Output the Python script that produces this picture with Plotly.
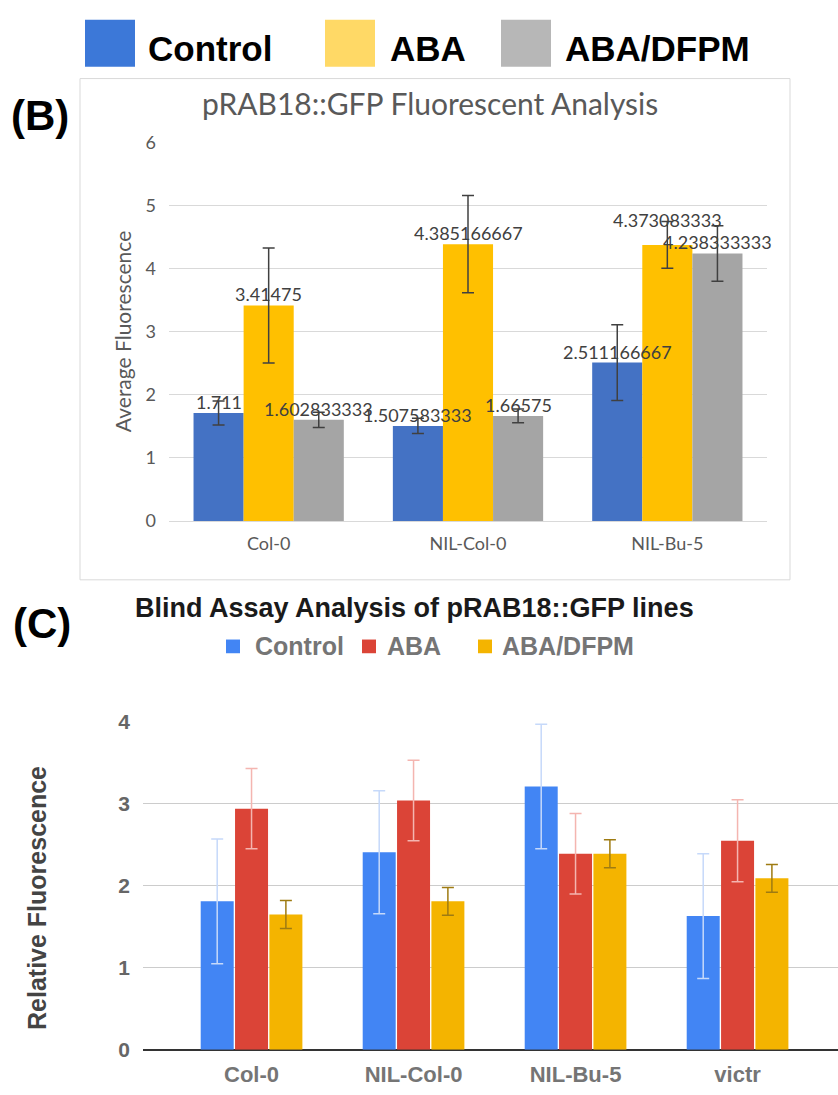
import plotly.graph_objects as go

# ---------------- data ----------------
series_names = ["Control", "ABA", "ABA/DFPM"]

# Panel B
b_categories = ["Col-0", "NIL-Col-0", "NIL-Bu-5"]
b_control = [1.711, 1.507583333, 2.511166667]
b_aba = [3.41475, 4.385166667, 4.373083333]
b_dfpm = [1.602833333, 1.66575, 4.238333333]
b_control_err = [0.19, 0.12, 0.60]
b_aba_err = [0.91, 0.77, 0.37]
b_dfpm_err = [0.12, 0.11, 0.44]
b_yticks = [0, 1, 2, 3, 4, 5, 6]

# Panel C
c_categories = ["Col-0", "NIL-Col-0", "NIL-Bu-5", "victr"]
c_control = [1.81, 2.41, 3.21, 1.63]
c_aba = [2.94, 3.04, 2.39, 2.55]
c_dfpm = [1.65, 1.81, 2.39, 2.09]
c_control_err = [0.76, 0.75, 0.76, 0.76]
c_aba_err = [0.49, 0.49, 0.49, 0.50]
c_dfpm_err = [0.17, 0.17, 0.17, 0.17]
c_yticks = [0, 1, 2, 3, 4]

# ---------------- styling ----------------
W, H = 838, 1095
def px(x):
    return x / W
def py(y):
    return 1 - y / H

top_legend_colors = ["#3c78d8", "#ffd966", "#b7b7b7"]
b_colors = ["#4472c4", "#ffc000", "#a5a5a5"]
c_colors = ["#4285f4", "#db4437", "#f4b400"]
c_err_colors = ["#c6d9fa", "#f4b5b0", "#9e7b12"]

b_font = "Lato, 'Noto Sans', sans-serif"
a_font = "'Liberation Sans', Arial, sans-serif"

fig = go.Figure()

# Panel B bars
wB = 0.2513
b_vals = [b_control, b_aba, b_dfpm]
b_errs = [b_control_err, b_aba_err, b_dfpm_err]
annotations = []
# extra vertical nudge (px) for labels that the original chart moved to avoid overlap
label_nudge = {(1, 2): 14}
for k in range(3):
    off = (k - 1.5) * wB
    fig.add_trace(go.Bar(
        x=b_categories, y=b_vals[k], name=series_names[k],
        xaxis="x", yaxis="y",
        width=wB, offset=off,
        marker=dict(color=b_colors[k], line=dict(width=0)),
        error_y=dict(type="data", array=b_errs[k], visible=True,
                     color="#404040", thickness=1.5, width=6),
        showlegend=False,
    ))
    # value labels drawn on top of all bars
    for i, (cat, v) in enumerate(zip(b_categories, b_vals[k])):
        annotations.append(dict(
            xref="x", yref="y", x=cat, y=v,
            xshift=(off + wB / 2) * (767 - 169) / 3,
            yshift=11 + label_nudge.get((k, i), 0),
            xanchor="center", yanchor="middle", showarrow=False,
            text=str(v), font=dict(family=b_font, size=18, color="#404040")))

# Panel C bars
sC = 0.212
wC = 0.2037
c_vals = [c_control, c_aba, c_dfpm]
c_errs = [c_control_err, c_aba_err, c_dfpm_err]
for k in range(3):
    fig.add_trace(go.Bar(
        x=c_categories, y=c_vals[k], name=series_names[k],
        xaxis="x2", yaxis="y2",
        width=wC, offset=(k - 1.5) * sC + (sC - wC) / 2,
        marker=dict(color=c_colors[k], line=dict(width=0)),
        error_y=dict(type="data", array=c_errs[k], visible=True,
                     color=c_err_colors[k], thickness=1.5, width=6),
        showlegend=False,
    ))

shapes = []

# Panel B frame
shapes.append(dict(type="rect", xref="paper", yref="paper",
                   x0=px(80), x1=px(790), y0=py(580), y1=py(68),
                   line=dict(color="#d9d9d9", width=1), fillcolor="rgba(0,0,0,0)",
                   layer="below"))

# Top legend (squares + labels)
sq_x = [85, 325, 501]
txt_x = [146, 388, 563]
for k in range(3):
    shapes.append(dict(type="rect", xref="paper", yref="paper",
                       x0=px(sq_x[k]), x1=px(sq_x[k] + 50), y0=py(56), y1=py(8),
                       line=dict(width=0), fillcolor=top_legend_colors[k]))
    annotations.append(dict(xref="paper", yref="paper", x=px(txt_x[k]), y=py(37),
                            xanchor="left", yanchor="middle", showarrow=False,
                            text=f"<b>{series_names[k]}</b>",
                            font=dict(family=a_font, size=35, color="#000000")))

# Panel C legend
csq_x = [226, 362, 478]
ctxt_x = [253, 385, 500]
for k in range(3):
    shapes.append(dict(type="rect", xref="paper", yref="paper",
                       x0=px(csq_x[k]), x1=px(csq_x[k] + 14), y0=py(655), y1=py(641),
                       line=dict(width=0), fillcolor=c_colors[k]))
    annotations.append(dict(xref="paper", yref="paper", x=px(ctxt_x[k]), y=py(648),
                            xanchor="left", yanchor="middle", showarrow=False,
                            text=f"<b>{series_names[k]}</b>",
                            font=dict(family=a_font, size=25, color="#757575")))

# Panel labels
annotations.append(dict(xref="paper", yref="paper", x=px(40), y=py(106),
                        xanchor="center", yanchor="middle", showarrow=False,
                        text="<b>(B)</b>", font=dict(family=a_font, size=42, color="#000")))
annotations.append(dict(xref="paper", yref="paper", x=px(42), y=py(625),
                        xanchor="center", yanchor="middle", showarrow=False,
                        text="<b>(C)</b>", font=dict(family=a_font, size=42, color="#000")))

# Titles
annotations.append(dict(xref="paper", yref="paper", x=px(430), y=py(93),
                        xanchor="center", yanchor="middle", showarrow=False,
                        text="pRAB18::GFP Fluorescent Analysis",
                        font=dict(family=b_font, size=30, color="#595959")))
annotations.append(dict(xref="paper", yref="paper", x=px(414), y=py(609),
                        xanchor="center", yanchor="middle", showarrow=False,
                        text="<b>Blind Assay Analysis of pRAB18::GFP lines</b>",
                        font=dict(family=a_font, size=27, color="#1a1a1a")))

# Axis titles
annotations.append(dict(xref="paper", yref="paper", x=px(122), y=py(327),
                        xanchor="center", yanchor="middle", showarrow=False, textangle=-90,
                        text="Average Fluorescence",
                        font=dict(family=b_font, size=21, color="#595959")))
annotations.append(dict(xref="paper", yref="paper", x=px(37), y=py(905),
                        xanchor="center", yanchor="middle", showarrow=False, textangle=-90,
                        text="<b>Relative Fluorescence</b>",
                        font=dict(family=a_font, size=25, color="#444444")))

fig.update_layout(
    width=W, height=H,
    margin=dict(l=0, r=0, t=0, b=0),
    paper_bgcolor="white", plot_bgcolor="white",
    barmode="overlay",
    showlegend=False,
    shapes=shapes, annotations=annotations,
    xaxis=dict(domain=[px(169), px(767)], range=[-0.5, 2.5], type="category",
               showgrid=False, showline=False, zeroline=False, ticks="",
               tickfont=dict(family=b_font, size=18, color="#595959"),
               ticklabelstandoff=10, fixedrange=True),
    yaxis=dict(domain=[py(520), py(133)], range=[0, 6], tickvals=b_yticks,
               showgrid=True, gridcolor="#d9d9d9", gridwidth=1,
               zeroline=True, zerolinecolor="#d9d9d9", zerolinewidth=1,
               showline=False, ticks="",
               tickfont=dict(family=b_font, size=18, color="#595959"),
               ticklabelstandoff=12, fixedrange=True),
    xaxis2=dict(domain=[px(143), 1.0], range=[-0.67, 3.62], type="category",
                anchor="y2",
                showgrid=False, showline=False, zeroline=False, ticks="",
                tickfont=dict(family=a_font, size=22, color="#757575", weight="bold"),
                ticklabelstandoff=9, fixedrange=True),
    yaxis2=dict(domain=[py(1060), py(725)], range=[0, 4], tickvals=c_yticks,
                anchor="x2",
                showgrid=True, gridcolor="#cccccc", gridwidth=1,
                zeroline=True, zerolinecolor="#333333", zerolinewidth=1.5,
                showline=False, ticks="",
                tickfont=dict(family=a_font, size=21, color="#666666", weight="bold"),
                ticklabelstandoff=12, fixedrange=True),
)

fig.write_html("out.html", config={"displayModeBar": False},
               post_script="document.body.style.margin='0';document.body.style.overflow='hidden';")
